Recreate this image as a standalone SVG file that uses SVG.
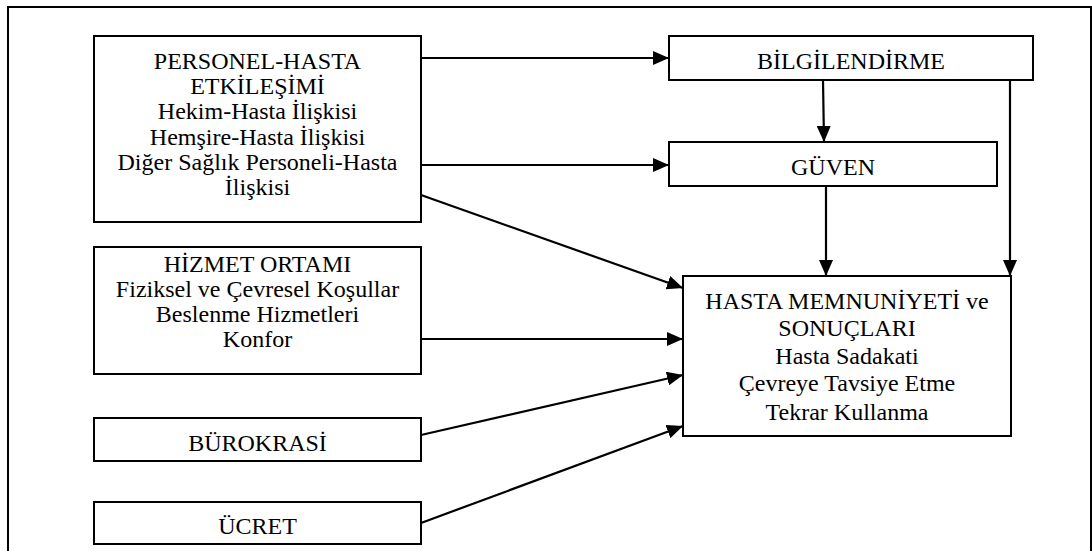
<svg xmlns="http://www.w3.org/2000/svg" width="1092" height="551" viewBox="0 0 1092 551">
  <style>
    .box { fill: #fff; stroke: #000; stroke-width: 2; }
    .frame { fill: none; stroke: #000; stroke-width: 2; }
    .lbl { font-family: "Liberation Serif", "Times New Roman", serif; font-size: 24px; fill: #000; text-anchor: middle; }
    .conn { fill: none; stroke: #000; stroke-width: 2.2; marker-end: url(#arrow); }
  </style>
  <defs>
    <marker id="arrow" viewBox="0 0 16 14" refX="16" refY="7" markerWidth="16" markerHeight="14" markerUnits="userSpaceOnUse" orient="auto">
      <path d="M0,0 L16,7 L0,14 Z" fill="#000"/>
    </marker>
  </defs>

  <rect width="1092" height="551" fill="#fff"/>
  <!-- outer frame (open at the bottom) -->
  <path class="frame" d="M8,551 V7 H1091 V551"/>

  <g id="personel">
    <rect class="box" x="94" y="36" width="327" height="186"/>
    <text class="lbl" x="257.5" y="69">PERSONEL-HASTA</text>
    <text class="lbl" x="257.5" y="94">ETKİLEŞİMİ</text>
    <text class="lbl" x="257.5" y="119">Hekim-Hasta İlişkisi</text>
    <text class="lbl" x="257.5" y="145">Hemşire-Hasta İlişkisi</text>
    <text class="lbl" x="257.5" y="170">Diğer Sağlık Personeli-Hasta</text>
    <text class="lbl" x="257.5" y="195">İlişkisi</text>
  </g>

  <g id="hizmet">
    <rect class="box" x="94" y="247" width="327" height="127"/>
    <text class="lbl" x="257.5" y="272">HİZMET ORTAMI</text>
    <text class="lbl" x="257.5" y="297">Fiziksel ve Çevresel Koşullar</text>
    <text class="lbl" x="257.5" y="322">Beslenme Hizmetleri</text>
    <text class="lbl" x="257.5" y="347">Konfor</text>
  </g>

  <g id="burokrasi">
    <rect class="box" x="94" y="418" width="327" height="43"/>
    <text class="lbl" x="257.5" y="451">BÜROKRASİ</text>
  </g>

  <g id="ucret">
    <rect class="box" x="94" y="502" width="327" height="42"/>
    <text class="lbl" x="257.5" y="534">ÜCRET</text>
  </g>

  <g id="bilgilendirme">
    <rect class="box" x="669" y="36" width="364" height="44"/>
    <text class="lbl" x="851" y="69">BİLGİLENDİRME</text>
  </g>

  <g id="guven">
    <rect class="box" x="669" y="142" width="328" height="44"/>
    <text class="lbl" x="833" y="175">GÜVEN</text>
  </g>

  <g id="memnuniyet">
    <rect class="box" x="683" y="276" width="328" height="160"/>
    <text class="lbl" x="847" y="309">HASTA MEMNUNİYETİ ve</text>
    <text class="lbl" x="847" y="336">SONUÇLARI</text>
    <text class="lbl" x="847" y="364">Hasta Sadakati</text>
    <text class="lbl" x="847" y="391">Çevreye Tavsiye Etme</text>
    <text class="lbl" x="847" y="420">Tekrar Kullanma</text>
  </g>

  <g id="connectors">
    <line class="conn" x1="421" y1="58" x2="669" y2="58"/>
    <line class="conn" x1="421" y1="165" x2="669" y2="165"/>
    <line class="conn" x1="421" y1="195" x2="683" y2="288"/>
    <line class="conn" x1="421" y1="339" x2="683" y2="339"/>
    <line class="conn" x1="421" y1="435" x2="683" y2="375"/>
    <line class="conn" x1="421" y1="523" x2="683" y2="426"/>
    <line class="conn" x1="823" y1="80" x2="824" y2="142"/>
    <line class="conn" x1="826" y1="186" x2="826" y2="276"/>
    <line class="conn" x1="1010" y1="80" x2="1010" y2="276"/>
  </g>
</svg>
